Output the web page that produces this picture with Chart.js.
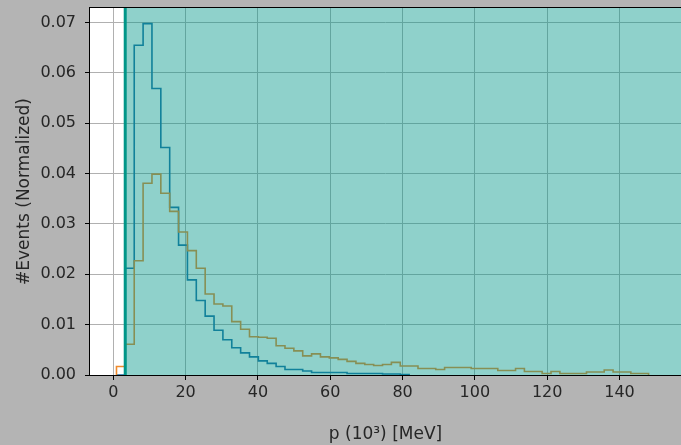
<!DOCTYPE html>
<html>
<head>
<meta charset="utf-8">
<script src="https://cdn.jsdelivr.net/npm/chart.js@4"></script>
<style>
  html, body { margin: 0; padding: 0; background: #b4b4b4; }
  #wrap { width: 681px; height: 445px; }
</style>
</head>
<body>
<div id="wrap"><canvas id="chart" width="681" height="445"></canvas></div>
<script>
// Histogram binning (momentum in units of 10^3 MeV)
const binStart = 0.885;
const binWidth = 2.4524;

// Normalized event fractions per bin
const signalCounts = [
  0.0000, 0.0212, 0.0655, 0.0698, 0.0569, 0.0452, 0.0333, 0.0258, 0.0189, 0.0148,
  0.0117, 0.0089, 0.0070, 0.0054, 0.0044, 0.0036, 0.0028, 0.0023, 0.0017, 0.0011,
  0.0011, 0.0008, 0.0005, 0.0005, 0.0005, 0.0005, 0.0003, 0.0003, 0.0003, 0.0003,
  0.0002, 0.0002, 0.0001
];
const backgroundCounts = [
  0.0017, 0.0061, 0.0227, 0.0381, 0.0399, 0.0361, 0.0325, 0.0284, 0.0247, 0.0212,
  0.0161, 0.0141, 0.0137, 0.0106, 0.0091, 0.0076, 0.0075, 0.0073, 0.0058, 0.0053,
  0.0048, 0.0038, 0.0042, 0.0036, 0.0034, 0.0031, 0.0027, 0.0023, 0.0021, 0.0019,
  0.0021, 0.0025, 0.0018, 0.0018, 0.0013, 0.0013, 0.0011, 0.0015, 0.0015, 0.0015,
  0.0013, 0.0013, 0.0013, 0.0009, 0.0009, 0.0013, 0.0007, 0.0007, 0.0003, 0.0007,
  0.0003, 0.0003, 0.0003, 0.0006, 0.0006, 0.0010, 0.0006, 0.0006, 0.0003, 0.0003
];

// Axis ticks
const xTicks = [0, 20, 40, 60, 80, 100, 120, 140];
const yTicks = [0, 0.01, 0.02, 0.03, 0.04, 0.05, 0.06, 0.07];

// Selection cut on p
const cutValue = 3.3;

// Turn per-bin values into an outline that starts and ends on the baseline
function stepOutline(values) {
  const pts = [{ x: binStart, y: 0 }];
  values.forEach((v, i) => pts.push({ x: binStart + i * binWidth, y: v }));
  pts.push({ x: binStart + values.length * binWidth, y: 0 });
  return pts;
}

Chart.defaults.font.family = "'DejaVu Sans', sans-serif";
Chart.defaults.font.size = 16;
Chart.defaults.color = '#262626';

const background = {
  id: 'background',
  beforeDraw(chart) {
    const { ctx, chartArea: a } = chart;
    ctx.save();
    ctx.fillStyle = '#b4b4b4';
    ctx.fillRect(0, 0, chart.width, chart.height);
    ctx.fillStyle = '#ffffff';
    ctx.fillRect(a.left, a.top, a.right - a.left, a.bottom - a.top);
    ctx.restore();
  }
};

// Accepted region shading, cut line and axes frame
const cutRegion = {
  id: 'cutRegion',
  afterDatasetsDraw(chart) {
    const { ctx, chartArea: a, scales: { x } } = chart;
    const px = x.getPixelForValue(cutValue);
    ctx.save();
    ctx.fillStyle = 'rgba(0, 150, 136, 0.44)';
    ctx.fillRect(px, a.top, a.right - px, a.bottom - a.top);
    ctx.strokeStyle = '#009688';
    ctx.lineWidth = 3;
    ctx.beginPath();
    ctx.moveTo(px, a.top);
    ctx.lineTo(px, a.bottom);
    ctx.stroke();
    ctx.strokeStyle = '#000000';
    ctx.lineWidth = 1;
    ctx.strokeRect(a.left - 0.5, a.top - 0.5, a.right - a.left + 1, a.bottom - a.top + 1);
    ctx.restore();
  }
};

new Chart(document.getElementById('chart'), {
  type: 'line',
  data: {
    datasets: [
      {
        label: 'background',
        data: stepOutline(backgroundCounts),
        borderColor: '#f08a2c',
        borderWidth: 1.6,
        stepped: true,
        pointRadius: 0,
        fill: false
      },
      {
        label: 'signal',
        data: stepOutline(signalCounts),
        borderColor: '#1f70a8',
        borderWidth: 1.6,
        stepped: true,
        pointRadius: 0,
        fill: false
      }
    ]
  },
  options: {
    responsive: false,
    devicePixelRatio: 1,
    animation: false,
    events: [],
    layout: { padding: { top: 8, right: 0, bottom: 0, left: 0 } },
    plugins: {
      legend: { display: false },
      tooltip: { enabled: false }
    },
    scales: {
      x: {
        type: 'linear',
        min: -6.44,
        max: 157,
        afterBuildTicks: s => { s.ticks = xTicks.map(v => ({ value: v })); },
        afterFit: s => { s.height = 70; s.paddingLeft = 0; s.paddingRight = 0; },
        ticks: { padding: 3, callback: v => String(v) },
        grid: { color: '#b0b0b0', lineWidth: 1, tickColor: '#000000', tickLength: 5 },
        border: { display: false },
        title: {
          display: true,
          text: 'p (10³) [MeV]',
          font: { size: 17 },
          padding: { top: 0, bottom: 0 }
        }
      },
      y: {
        type: 'linear',
        min: 0,
        max: 0.0729,
        afterBuildTicks: s => { s.ticks = yTicks.map(v => ({ value: v })); },
        afterFit: s => { s.width = 90; s.paddingTop = 0; s.paddingBottom = 0; },
        ticks: { padding: 9, callback: v => v.toFixed(2) },
        grid: { color: '#b0b0b0', lineWidth: 1, tickColor: '#000000', tickLength: 5 },
        border: { display: false },
        title: {
          display: true,
          text: '#Events (Normalized)',
          font: { size: 17 },
          padding: { top: 14, bottom: 0 }
        }
      }
    }
  },
  plugins: [background, cutRegion]
});
</script>
</body>
</html>
